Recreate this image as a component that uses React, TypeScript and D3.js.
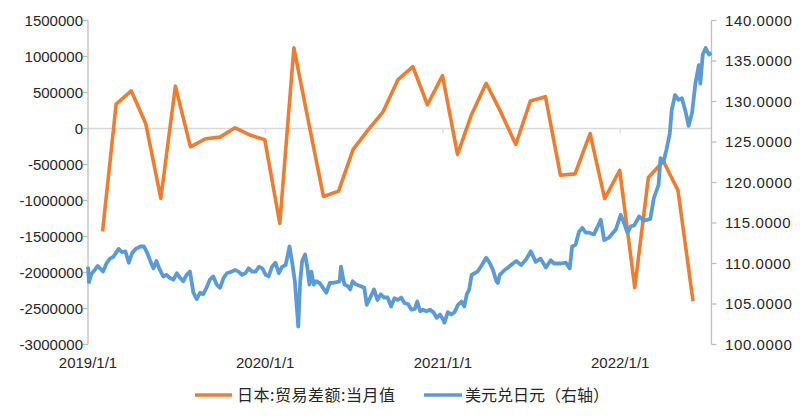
import React from "react";
import * as d3 from "d3";

const tradeMonths = [
  "2019-01","2019-02","2019-03","2019-04","2019-05","2019-06","2019-07","2019-08","2019-09","2019-10","2019-11","2019-12",
  "2020-01","2020-02","2020-03","2020-04","2020-05","2020-06","2020-07","2020-08","2020-09","2020-10","2020-11","2020-12",
  "2021-01","2021-02","2021-03","2021-04","2021-05","2021-06","2021-07","2021-08","2021-09","2021-10","2021-11","2021-12",
  "2022-01","2022-02","2022-03","2022-04","2022-05",
];
const tradeValues = [
  -1430000, 338000, 523000, 65000, -970000, 588000, -255000, -142000, -120000, 10000, -90000, -155000,
  -1318000, 1120000, 60000, -945000, -870000, -290000, -20000, 235000, 675000, 860000, 330000, 735000,
  -360000, 180000, 628000, 230000, -222000, 382000, 442000, -650000, -630000, -70000, -975000, -582000,
  -2210000, -680000, -455000, -860000, -2400000,
];

const fxDates = [
  "2019-01-01","2019-01-03","2019-01-08","2019-01-15","2019-01-21","2019-01-29","2019-02-01","2019-02-08","2019-02-15","2019-02-22",
  "2019-03-05","2019-03-12","2019-03-19","2019-03-26","2019-04-02","2019-04-09","2019-04-19","2019-04-26","2019-05-03","2019-05-10",
  "2019-05-16","2019-05-22","2019-05-29","2019-06-05","2019-06-12","2019-06-19","2019-06-26","2019-07-03","2019-07-10","2019-07-16",
  "2019-07-23","2019-07-30","2019-08-06","2019-08-13","2019-08-20","2019-08-26","2019-09-02","2019-09-09","2019-09-16","2019-09-23",
  "2019-09-30","2019-10-07","2019-10-14","2019-10-24","2019-10-31","2019-11-07","2019-11-14","2019-11-21","2019-11-28","2019-12-05",
  "2019-12-12","2019-12-19","2019-12-26","2020-01-02","2020-01-08","2020-01-15","2020-01-22","2020-01-29","2020-02-05","2020-02-12",
  "2020-02-20","2020-02-25","2020-03-02","2020-03-09","2020-03-13","2020-03-17","2020-03-23","2020-03-28","2020-04-01","2020-04-05",
  "2020-04-10","2020-04-15","2020-04-22","2020-04-29","2020-05-06","2020-05-13","2020-05-20","2020-05-27","2020-06-02","2020-06-05",
  "2020-06-12","2020-06-19","2020-06-24","2020-06-29","2020-07-06","2020-07-16","2020-07-23","2020-07-28","2020-08-02","2020-08-12",
  "2020-08-19","2020-08-26","2020-09-02","2020-09-09","2020-09-16","2020-09-23","2020-09-30","2020-10-07","2020-10-14","2020-10-21",
  "2020-10-28","2020-11-04","2020-11-09","2020-11-15","2020-11-21","2020-11-28","2020-12-05","2020-12-12","2020-12-19","2020-12-26",
  "2021-01-01","2021-01-04","2021-01-11","2021-01-18","2021-01-25","2021-02-01","2021-02-08","2021-02-14","2021-02-19","2021-02-24",
  "2021-03-01","2021-03-07","2021-03-13","2021-03-20","2021-03-31","2021-04-07","2021-04-14","2021-04-21","2021-04-24","2021-04-28",
  "2021-05-08","2021-05-15","2021-05-25","2021-06-01","2021-06-11","2021-06-21","2021-07-01","2021-07-11","2021-07-21","2021-08-01",
  "2021-08-11","2021-08-18","2021-09-01","2021-09-11","2021-09-19","2021-09-24","2021-10-01","2021-10-08","2021-10-15","2021-10-22",
  "2021-10-29","2021-11-08","2021-11-19","2021-11-22","2021-11-29","2021-12-09","2021-12-23","2022-01-02","2022-01-09","2022-01-16",
  "2022-01-23","2022-01-30","2022-02-09","2022-02-19","2022-03-04","2022-03-11","2022-03-21","2022-03-25","2022-03-31","2022-04-06",
  "2022-04-13","2022-04-17","2022-04-24","2022-05-01","2022-05-08","2022-05-15","2022-05-22","2022-05-29","2022-06-05","2022-06-12",
  "2022-06-15","2022-06-20","2022-06-26","2022-07-03","2022-07-08",
];
const fxValues = [
  109.6,107.7,108.7,109.2,109.7,109.2,109.0,110.0,110.6,110.8,
  111.8,111.4,111.5,110.1,111.3,111.8,112.1,112.1,111.3,110.2,
  109.4,110.3,109.2,108.4,108.6,108.2,108.0,108.8,108.2,107.8,
  108.6,109.0,106.4,105.6,106.4,106.2,107.0,108.0,108.4,107.4,
  107.0,108.2,108.8,109.0,109.2,109.0,108.6,108.8,109.4,109.0,
  109.0,109.6,109.4,108.6,108.4,109.6,110.1,108.8,109.6,109.8,
  112.1,110.3,107.8,102.2,107.8,110.3,111.1,109.4,107.4,109.0,
  107.4,107.8,107.6,107.0,106.4,107.6,107.6,107.7,107.8,109.6,
  107.4,107.2,106.8,107.8,107.4,107.2,107.0,104.9,105.5,106.8,
  105.5,106.2,105.8,105.8,104.7,105.7,105.5,105.8,105.1,105.0,
  104.3,104.4,105.3,104.1,104.3,104.1,104.3,104.0,103.3,103.7,
  103.1,102.7,104.0,103.7,104.0,104.9,105.3,104.7,106.2,106.8,
  108.6,108.8,109.0,109.6,110.7,110.1,109.2,107.8,107.6,108.6,
  109.2,109.5,110.0,110.3,109.8,110.5,111.5,110.2,110.6,109.5,
  110.4,110.0,110.0,110.1,109.4,112.1,112.3,113.9,114.4,113.8,
  113.8,113.6,115.0,115.4,112.9,113.2,114.2,116.0,115.0,113.8,
  114.6,114.7,115.8,115.3,115.5,118.0,119.7,123.0,122.5,124.0,
  126.0,128.9,130.8,130.2,130.4,128.9,127.0,128.6,132.3,134.5,
  132.2,135.8,136.6,135.8,136.0,
];

const leftTicks = [1500000, 1000000, 500000, 0, -500000, -1000000, -1500000, -2000000, -2500000, -3000000];
const rightTicks = [140, 135, 130, 125, 120, 115, 110, 105, 100];
const xTickDates = ["2019-01-01", "2020-01-01", "2021-01-01", "2022-01-01"];
const xDomain = ["2019-01-01", "2022-07-08"];

const seriesNames = ["日本:贸易差额:当月值", "美元兑日元（右轴）"];
const colors = ["#ED7D31", "#5B9BD5"];

const W = 800, H = 420;
const PL = 88, PR = 711.5, PT = 20.5, PB = 344.5;

export default function App() {
  const parse = d3.timeParse("%Y-%m-%d");
  const parseMonth = d3.timeParse("%Y-%m");
  const x = d3.scaleTime().domain(xDomain.map((s) => parse(s) as Date)).range([PL, PR]);
  const yL = d3.scaleLinear().domain([-3000000, 1500000]).range([PB, PT]);
  const yR = d3.scaleLinear().domain([100, 140]).range([PB, PT]);

  const tradeData = tradeMonths.map((m, i) => ({
    date: d3.timeDay.offset(d3.timeMonth.offset(parseMonth(m) as Date, 1), -1),
    value: tradeValues[i],
  }));
  const fxData = fxDates.map((s, i) => ({ date: parse(s) as Date, value: fxValues[i] }));

  const tradeLine = d3.line<{ date: Date; value: number }>().x((d) => x(d.date)).y((d) => yL(d.value));
  const fxLine = d3.line<{ date: Date; value: number }>().x((d) => x(d.date)).y((d) => yR(d.value));

  const numFont = "'Liberation Sans', Arial, sans-serif";
  const cjkFont = "'Noto Sans CJK SC', sans-serif";
  const axisColor = "#BFBFBF";
  const textColor = "#262626";
  const fmtDate = d3.timeFormat("%Y/%-m/%-d");
  const y0 = yL(0);

  return (
    <svg width={W} height={H} style={{ position: "absolute", left: 0, top: 0, background: "#fff" }}>
      {/* zero / category axis line */}
      <line x1={PL} x2={PR} y1={y0} y2={y0} stroke="#D9D9D9" strokeWidth={1.3} />
      {xTickDates.map((s) => {
        const xx = x(parse(s) as Date);
        return <line key={s} x1={xx} x2={xx} y1={y0} y2={y0 + 5} stroke="#D9D9D9" strokeWidth={1.3} />;
      })}
      {/* left axis */}
      <line x1={PL} x2={PL} y1={PT} y2={PB} stroke={axisColor} strokeWidth={1.3} />
      {leftTicks.map((t) => (
        <g key={t}>
          <line x1={PL - 5} x2={PL} y1={yL(t)} y2={yL(t)} stroke={axisColor} strokeWidth={1.3} />
          <text x={PL - 5} y={yL(t)} dy="0.36em" textAnchor="end" fontFamily={numFont} fontSize={15} fill={textColor}>
            {t < 0 ? "-" + Math.abs(t) : String(t)}
          </text>
        </g>
      ))}
      {/* right axis */}
      <line x1={PR} x2={PR} y1={PT} y2={PB} stroke={axisColor} strokeWidth={1.3} />
      {rightTicks.map((t) => (
        <g key={t}>
          <line x1={PR} x2={PR + 5} y1={yR(t)} y2={yR(t)} stroke={axisColor} strokeWidth={1.3} />
          <text x={725} y={yR(t)} dy="0.36em" textAnchor="start" fontFamily={numFont} fontSize={15} fill={textColor} letterSpacing={0.6}>
            {t.toFixed(4)}
          </text>
        </g>
      ))}
      {/* x labels */}
      {xTickDates.map((s) => (
        <text key={s} x={x(parse(s) as Date)} y={368} textAnchor="middle" fontFamily={numFont} fontSize={15} fill={textColor}>
          {fmtDate(parse(s) as Date)}
        </text>
      ))}
      {/* series */}
      <path d={tradeLine(tradeData) || ""} fill="none" stroke={colors[0]} strokeWidth={3.6} strokeLinejoin="round" />
      <path d={fxLine(fxData) || ""} fill="none" stroke={colors[1]} strokeWidth={3.8} strokeLinejoin="round" />
      {/* legend */}
      <line x1={195} x2={232} y1={395} y2={395} stroke={colors[0]} strokeWidth={3.6} />
      <text x={237} y={401} fontFamily={cjkFont} fontSize={16} fill={textColor} textLength={158} lengthAdjust="spacing">
        {seriesNames[0]}
      </text>
      <line x1={424} x2={462} y1={395} y2={395} stroke={colors[1]} strokeWidth={3.6} />
      <text x={465} y={401} fontFamily={cjkFont} fontSize={16} fill={textColor}>
        {seriesNames[1]}
      </text>
    </svg>
  );
}
